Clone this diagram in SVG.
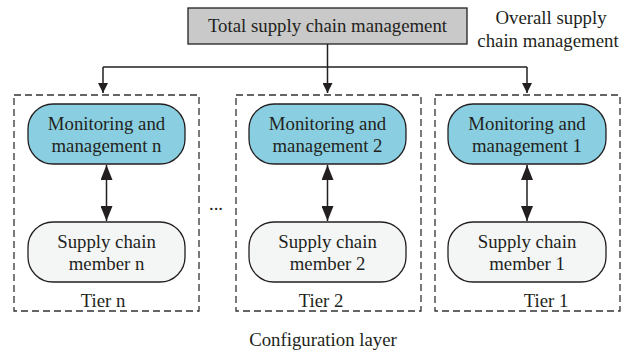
<svg xmlns="http://www.w3.org/2000/svg" width="634" height="353" viewBox="0 0 634 353">
<style>
text{font-family:"Liberation Serif","Times New Roman",serif;font-size:18.8px;fill:#231f20;text-anchor:middle}
.tier{fill:none;stroke:#333;stroke-width:1.3;stroke-dasharray:7,4}
.mon{fill:#89cfe1;stroke:#231f20;stroke-width:1.3}
.mem{fill:#f4f6f6;stroke:#231f20;stroke-width:1.3}
.top{fill:#c9c9c9;stroke:#231f20;stroke-width:1.3}
.ln{fill:none;stroke:#231f20;stroke-width:1.5}
</style>
<defs>
<marker id="ah" viewBox="0 0 10 10" refX="10" refY="5" markerWidth="10" markerHeight="10" markerUnits="userSpaceOnUse" orient="auto">
<path d="M0,0 L10,5 L0,10 z" fill="#231f20"/>
</marker>
<marker id="ah2" viewBox="0 0 15 12" refX="15" refY="6" markerWidth="15" markerHeight="12" markerUnits="userSpaceOnUse" orient="auto-start-reverse">
<path d="M0,0 L15,6 L0,12 z" fill="#231f20"/>
</marker>
</defs>
<g id="total">
<rect class="top" x="188" y="8" width="279" height="36"/>
<text x="327.5" y="32">Total supply chain management</text>
</g>
<g id="overall-label">
<text x="551" y="24">Overall supply</text>
<text x="548" y="47">chain management</text>
</g>
<g id="tier-n">
<rect class="tier" x="14" y="95" width="185" height="216"/>
<rect class="mon" x="28" y="104" width="157" height="60" rx="25"/>
<text x="106.5" y="130">Monitoring and</text>
<text x="106.5" y="152">management n</text>
<rect class="mem" x="28" y="222" width="157" height="60" rx="25"/>
<text x="106.5" y="248">Supply chain</text>
<text x="106.5" y="270">member n</text>
<text x="103" y="307">Tier n</text>
</g>
<g id="tier-2">
<rect class="tier" x="236" y="95" width="185" height="216"/>
<rect class="mon" x="249" y="104" width="157" height="60" rx="25"/>
<text x="327.5" y="130">Monitoring and</text>
<text x="327.5" y="152">management 2</text>
<rect class="mem" x="249" y="222" width="157" height="60" rx="25"/>
<text x="327.5" y="248">Supply chain</text>
<text x="327.5" y="270">member 2</text>
<text x="321" y="307">Tier 2</text>
</g>
<g id="tier-1">
<rect class="tier" x="435" y="95" width="185" height="216"/>
<rect class="mon" x="448" y="104" width="158" height="60" rx="25"/>
<text x="527" y="130">Monitoring and</text>
<text x="527" y="152">management 1</text>
<rect class="mem" x="448" y="222" width="158" height="60" rx="25"/>
<text x="527" y="248">Supply chain</text>
<text x="527" y="270">member 1</text>
<text x="546" y="307">Tier 1</text>
</g>
<g id="dots"><text x="216" y="210">...</text></g>
<g id="config-label"><text x="323" y="346">Configuration layer</text></g>
<g id="connectors">
<path class="ln" d="M327.5,44 V67"/>
<path class="ln" d="M103,67 H527"/>
<path class="ln" d="M103,67 V93" marker-end="url(#ah)"/>
<path class="ln" d="M327.5,67 V93" marker-end="url(#ah)"/>
<path class="ln" d="M527,67 V93" marker-end="url(#ah)"/>
<path class="ln" d="M106.5,165 V221" marker-start="url(#ah2)" marker-end="url(#ah2)"/>
<path class="ln" d="M327.5,165 V221" marker-start="url(#ah2)" marker-end="url(#ah2)"/>
<path class="ln" d="M527,165 V221" marker-start="url(#ah2)" marker-end="url(#ah2)"/>
</g>
</svg>
